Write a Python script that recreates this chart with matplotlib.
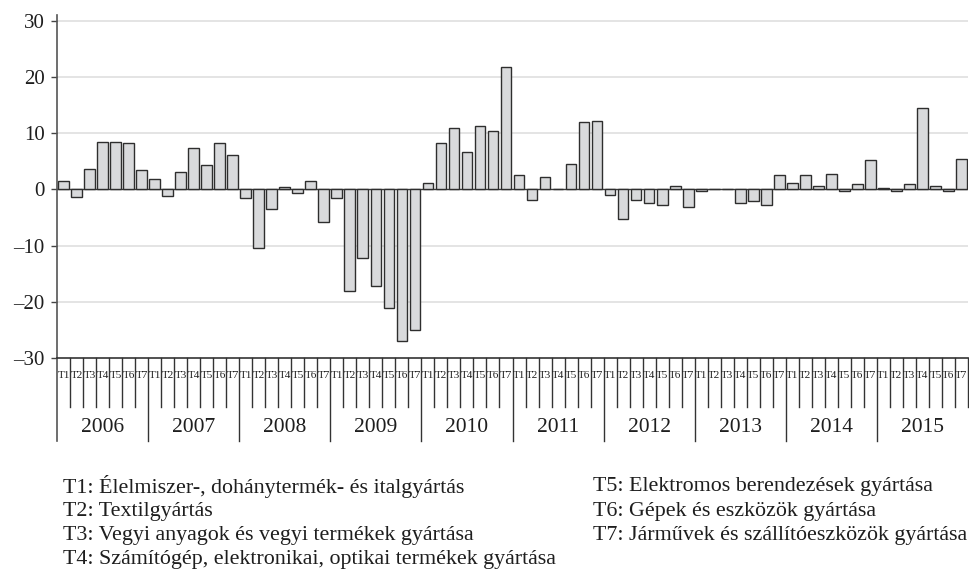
import matplotlib
matplotlib.use("Agg")
import matplotlib.pyplot as plt
import matplotlib.transforms as mtransforms
import numpy as np

years = ["2006", "2007", "2008", "2009", "2010", "2011", "2012", "2013", "2014", "2015"]
sectors = ["T1", "T2", "T3", "T4", "T5", "T6", "T7"]

v2006 = [1.5, -1.3, 3.6, 8.5, 8.5, 8.2, 3.4]
v2007 = [1.8, -1.2, 3.1, 7.3, 4.3, 8.2, 6.1]
v2008 = [-1.5, -10.4, -3.4, 0.5, -0.6, 1.5, -5.7]
v2009 = [-1.5, -18.0, -12.2, -17.1, -21.1, -26.9, -25.0]
v2010 = [1.2, 8.2, 11.0, 6.7, 11.3, 10.4, 21.7]
v2011 = [2.5, -1.9, 2.2, 0.0, 4.6, 11.9, 12.2]
v2012 = [-0.9, -5.2, -1.8, -2.4, -2.7, 0.6, -3.1]
v2013 = [-0.3, 0.0, 0.0, -2.4, -2.1, -2.7, 2.5]
v2014 = [1.2, 2.5, 0.6, 2.7, -0.3, 0.9, 5.2]
v2015 = [0.3, -0.3, 0.9, 14.4, 0.6, -0.3, 5.5]

yticks = [30, 20, 10, 0, -10, -20, -30]
ytick_labels = ["30", "20", "10", "0", "\u201310", "\u201320", "\u201330"]

legend_left = [
    "T1: Élelmiszer-, dohánytermék- és italgyártás",
    "T2: Textilgyártás",
    "T3: Vegyi anyagok és vegyi termékek gyártása",
    "T4: Számítógép, elektronikai, optikai termékek gyártása",
]
legend_right = [
    "T5: Elektromos berendezések gyártása",
    "T6: Gépek és eszközök gyártása",
    "T7: Járművek és szállítóeszközök gyártása",
]

values = np.concatenate([v2006, v2007, v2008, v2009, v2010, v2011,
                         v2012, v2013, v2014, v2015])
n = len(values)
ns = len(sectors)
x = np.arange(n)

FONT = ["Liberation Serif", "DejaVu Serif"]
plt.rcParams["font.family"] = FONT
TXT = "#1e1e1e"

W, H = 969, 576
fig = plt.figure(figsize=(W / 100, H / 100), dpi=100)

def fx(px):
    return px / W

def fy(py):
    return 1 - py / H

ax_l, ax_r, ax_t, ax_b = 57, 968, 15, 358.3
ax = fig.add_axes([fx(ax_l), fy(ax_b), fx(ax_r - ax_l), (ax_b - ax_t) / H])

ax.set_xlim(-0.5, n - 0.5)
ax.set_ylim(-30, 31)

for yv in [30, 20, 10, -10, -20]:
    ax.axhline(yv, color="#e2e2e2", lw=1.3, zorder=0)
ax.axhline(0, color="#3a3a3a", lw=1.0, zorder=1)

ax.bar(x, values, width=0.82, color="#d9dadc", edgecolor="#2e2e2e",
       linewidth=1.0, zorder=2)

ax.set_yticks(yticks)
ax.set_yticklabels(ytick_labels, fontsize=15, color=TXT)
ax.tick_params(axis="y", length=4, width=1.0, color="#444444", pad=5)
ax.set_xticks([])

for s in ["top", "right"]:
    ax.spines[s].set_visible(False)
ax.spines["left"].set_color("#555555")
ax.spines["left"].set_linewidth(1.2)
ax.spines["bottom"].set_color("#333333")
ax.spines["bottom"].set_linewidth(1.2)

trans = mtransforms.blended_transform_factory(ax.transData, fig.transFigure)
y_axis = fy(ax_b)
y_short = fy(407)
y_long = fy(441)

for k in range(1, n + 1):
    xb = k - 0.5
    if k % ns == 0 and k != n:
        ax.plot([xb, xb], [y_axis, y_long], transform=trans, color="#333333",
                lw=1.0, clip_on=False)
    else:
        ax.plot([xb, xb], [y_axis, y_short], transform=trans, color="#333333",
                lw=1.0, clip_on=False)
ax.plot([-0.5, -0.5], [y_axis, y_long], transform=trans, color="#555555",
        lw=1.2, clip_on=False)

for i in range(n):
    ax.text(i, fy(375.5), sectors[i % ns], transform=trans, ha="center",
            va="center", fontsize=8, color=TXT)

for j, yr in enumerate(years):
    ax.text(j * ns + (ns - 1) / 2, fy(427), yr, transform=trans, ha="center",
            va="center", fontsize=15.5, color=TXT)

for i, t in enumerate(legend_left):
    fig.text(fx(63), fy(487 + i * 24.2), t, ha="left", va="center",
             fontsize=15.8, color=TXT)
for i, t in enumerate(legend_right):
    fig.text(fx(593), fy(487 + i * 24.2), t, ha="left", va="center",
             fontsize=15.8, color=TXT)

fig.savefig("out.png", dpi=100)
